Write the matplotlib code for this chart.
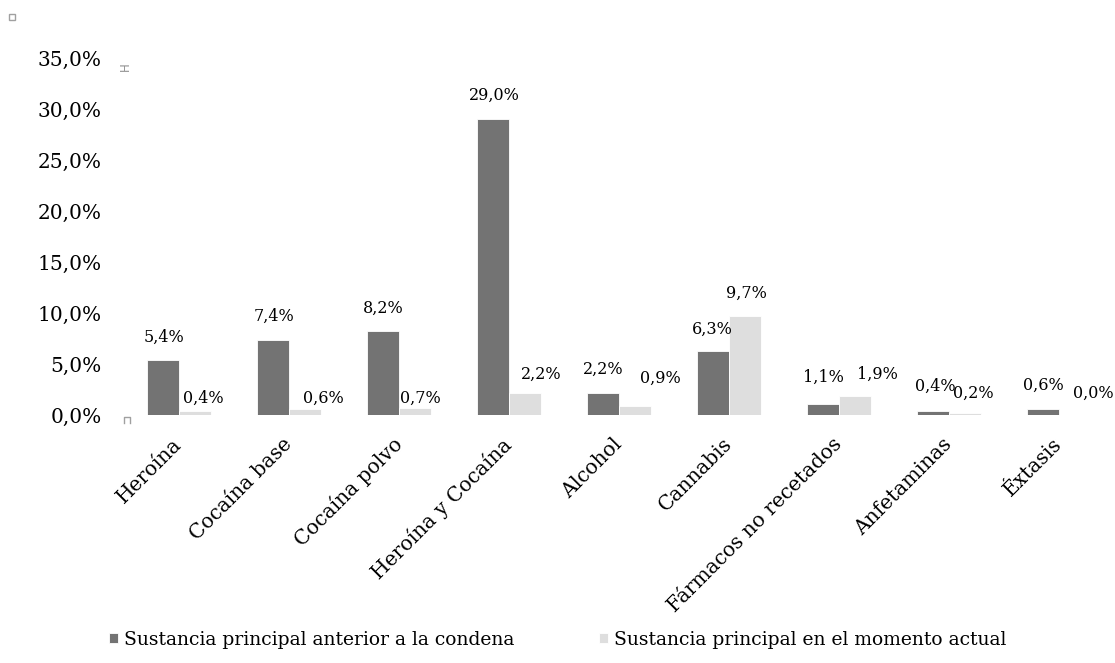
import numpy as np
import matplotlib.pyplot as plt
from matplotlib.lines import Line2D
from matplotlib.patches import Rectangle

# porcentajes por sustancia
sustancias = ['Heroína', 'Cocaína base', 'Cocaína polvo', 'Heroína y Cocaína',
              'Alcohol', 'Cannabis', 'Fármacos no recetados', 'Anfetaminas', 'Éxtasis']
anterior = [5.4, 7.4, 8.2, 29.0, 2.2, 6.3, 1.1, 0.4, 0.6]
actual = [0.4, 0.6, 0.7, 2.2, 0.9, 9.7, 1.9, 0.2, 0.0]
y_ticks = [0, 5, 10, 15, 20, 25, 30, 35]

serie1 = 'Sustancia principal anterior a la condena'
serie2 = 'Sustancia principal en el momento actual'

# desplazamiento de las etiquetas de valor (pixeles, respecto al tope de la barra)
off_anterior = [(1, 23), (1, 23), (0, 23), (1, 24), (0, 23), (-1, 21), (0, 26), (2, 25), (0, 24)]
off_actual = [(8, 13), (18, 11), (5, 10), (16, 18), (25, 28), (1, 23), (22, 21), (8, 20), (18, 22)]

plt.rcParams['font.family'] = 'DejaVu Serif'

fig = plt.figure(figsize=(11.15, 6.63), dpi=100)
ax = fig.add_axes([0.1112, 0.374, 0.8879, 0.5385])

x = np.arange(len(sustancias))
w = 0.29
oscuro = '#737373'
claro = '#dedede'

b1 = ax.bar(x - w / 2, anterior, w, color=oscuro, edgecolor='white', linewidth=0.6, label=serie1)
b2 = ax.bar(x + w / 2, actual, w, color=claro, edgecolor='white', linewidth=0.6, label=serie2)

def fmt(v):
    return '{:.1f}%'.format(v).replace('.', ',')

for xi, v, (dx, dy) in zip(x - w / 2, anterior, off_anterior):
    ax.annotate(fmt(v), (xi, v), xytext=(dx, dy), textcoords='offset pixels',
                ha='center', va='center', fontsize=11.5, color='black')
for xi, v, (dx, dy) in zip(x + w / 2, actual, off_actual):
    ax.annotate(fmt(v), (xi, v), xytext=(dx, dy), textcoords='offset pixels',
                ha='center', va='center', fontsize=11.5, color='black')

ax.set_xlim(-0.5, len(sustancias) - 0.5)
ax.set_ylim(0, 35)
ax.set_yticks(y_ticks)
ax.set_yticklabels([fmt(t) for t in y_ticks], fontsize=14.5)
ax.set_xticks(x)
ax.set_xticklabels(sustancias, fontsize=14.5, rotation=45, ha='right',
                   va='center', rotation_mode='anchor')
ax.tick_params(axis='y', length=0, pad=16)
ax.tick_params(axis='x', length=0, pad=19)
for s in ax.spines.values():
    s.set_visible(False)

leg = fig.legend(handles=[b1, b2], labels=[serie1, serie2], loc='center',
                 bbox_to_anchor=(0.5, 0.035), ncol=2, frameon=False, fontsize=13.5,
                 handlelength=0.5, handleheight=0.5, handletextpad=0.3,
                 columnspacing=4.5)

# marcas de selección del gráfico
fig.add_artist(Rectangle((9 / 1115, 1 - 20 / 663), 6 / 1115, 6 / 663, transform=fig.transFigure,
                         facecolor='white', edgecolor='#a0a0a0', linewidth=1))
fig.text(125 / 1115, 1 - 67 / 663, 'H', rotation=90, ha='center', va='center',
         fontsize=8.5, color='#909090', family='DejaVu Sans')
fig.add_artist(Line2D([124 / 1115, 124 / 1115, 130 / 1115, 130 / 1115],
                      [1 - 423 / 663, 1 - 417 / 663, 1 - 417 / 663, 1 - 423 / 663],
                      transform=fig.transFigure, color='#a0a0a0', linewidth=1))

fig.savefig('out.png', dpi=100)
